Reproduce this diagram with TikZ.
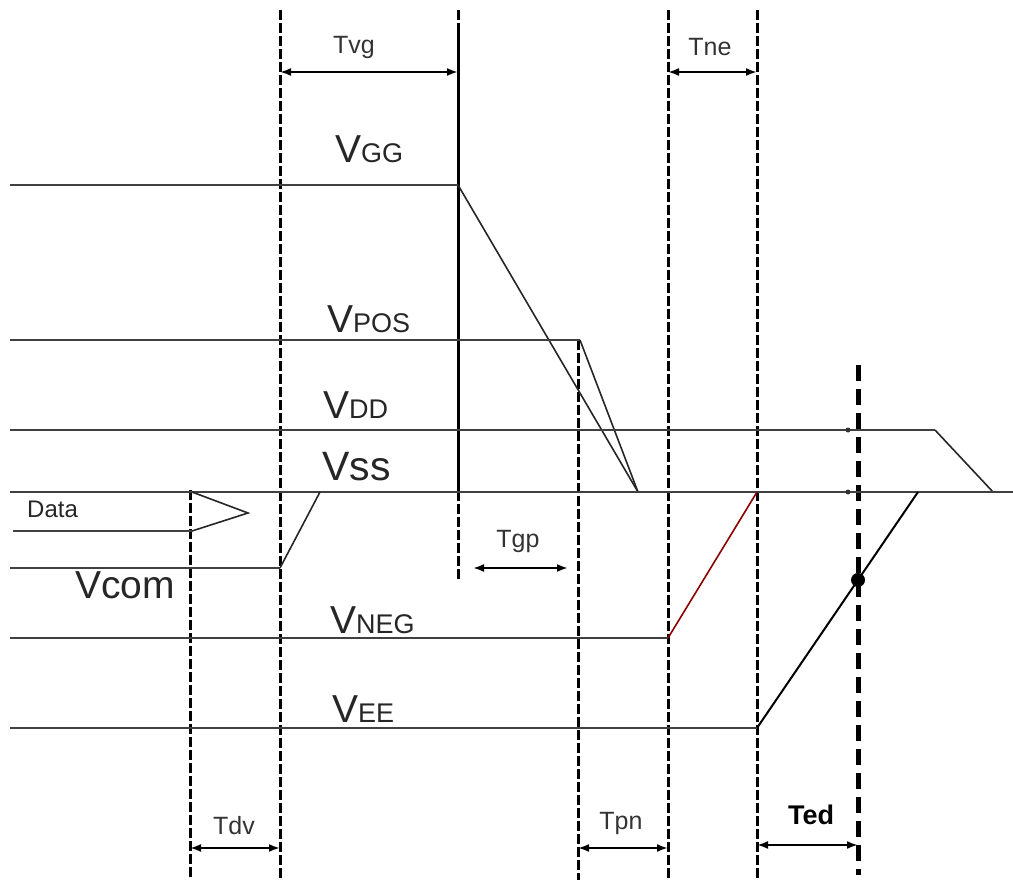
\documentclass[tikz,border=0pt]{standalone}
\usepackage{fontspec}
\setmainfont{Liberation Sans}
\usetikzlibrary{arrows.meta}

\newcommand{\vsub}[1]{{\fontsize{39}{39}\selectfont V\fontsize{27}{27}\selectfont #1}}

\tikzset{
  sigline/.style={line width=2.3pt, draw=black!75},
  slope/.style={line width=1.6pt, draw=black!85},
  guide/.style={line width=3pt, dash pattern=on 10pt off 3pt},
  measure/.style={line width=2pt, {Latex[length=11pt,width=8pt]}-{Latex[length=11pt,width=8pt]}},
  vlabel/.style={anchor=base west, inner sep=0pt, text=black!85},
  tlabel/.style={font=\fontsize{25}{25}\selectfont, inner sep=0pt, text=black!80}
}

\begin{document}
\begin{tikzpicture}[x=1pt, y=-1pt]
  \useasboundingbox (0,0) rectangle (1013,880);

  % time marks
  \foreach \n/\x/\ya/\yb in {dv/190/490/880, vg/280/10/880, gg/458/10/580,
                             gp/578/340/880, pn/668/10/880, ne/757/10/880} {
    \coordinate (\n-top) at (\x,\ya);
    \coordinate (\n-bot) at (\x,\yb);
    \draw[guide] (\n-top) -- (\n-bot);
  }
  \coordinate (gg-a) at (458,30);
  \coordinate (gg-b) at (458,500);
  \draw[line width=3pt] (gg-a) -- (gg-b);
  \coordinate (ed-top) at (858,365);
  \coordinate (ed-bot) at (858,875);
  \draw[line width=5pt, dash pattern=on 16pt off 8pt] (ed-top) -- (ed-bot);

  % supply levels
  \coordinate (vgg0) at (10,185);  \coordinate (vgg1) at (458,185);
  \coordinate (vpos0) at (10,340); \coordinate (vpos1) at (580,340);
  \coordinate (vfall) at (638,492);
  \coordinate (vdd0) at (10,430);  \coordinate (vdd1) at (935,430);
  \coordinate (vdd2) at (993,492);
  \coordinate (vss0) at (10,492);  \coordinate (vss1) at (1013,492);
  \coordinate (vcom0) at (10,568); \coordinate (vcom1) at (280,568);
  \coordinate (vcom2) at (320,492);
  \coordinate (vneg0) at (10,638); \coordinate (vneg1) at (668,638);
  \coordinate (vneg2) at (757,492);
  \coordinate (vee0) at (10,728);  \coordinate (vee1) at (757,728);
  \coordinate (vee2) at (918,492);

  \draw[sigline] (vgg0) -- (vgg1);
  \draw[slope] (vgg1) -- (vfall);
  \draw[sigline] (vpos0) -- (vpos1);
  \draw[slope] (vpos1) -- (vfall);
  \draw[sigline] (vdd0) -- (vdd1);
  \draw[slope] (vdd1) -- (vdd2);
  \draw[sigline] (vss0) -- (vss1);
  \draw[sigline] (vcom0) -- (vcom1);
  \draw[slope] (vcom1) -- (vcom2);
  \draw[sigline] (vneg0) -- (vneg1);
  \draw[line width=1.6pt, draw=red!55!black] (vneg1) -- (vneg2);
  \draw[sigline] (vee0) -- (vee1);
  \draw[line width=2pt] (vee1) -- (vee2);
  \fill[black!80] (848,430) circle (2.5pt) (848,492) circle (2.5pt);
  \coordinate (edcross) at (intersection of vee1--vee2 and ed-top--ed-bot);
  \fill (edcross) circle (7pt);

  % data bus
  \coordinate (data0) at (13,531);  \coordinate (data1) at (192,531);
  \coordinate (datatip) at (248,513); \coordinate (datatop) at (192,492);
  \draw[sigline] (data0) -- (data1);
  \draw[slope] (data1) -- (datatip) -- (datatop);

  % labels
  \node[vlabel] (lgg) at (335,163) {\vsub{GG}};
  \node[vlabel] (lpos) at (327,332) {\vsub{POS}};
  \node[vlabel] (ldd) at (323,418) {\vsub{DD}};
  \node[vlabel, font=\fontsize{41}{41}\selectfont] (lss) at (322,480) {Vss};
  \node[vlabel] (lneg) at (330,633) {\vsub{NEG}};
  \node[vlabel] (lee) at (332,722) {\vsub{EE}};
  \node[vlabel, font=\fontsize{39}{39}\selectfont] (lcom) at (75,598) {Vcom};
  \node[vlabel, font=\fontsize{24}{24}\selectfont] (ldata) at (27,517) {Data};

  % intervals
  \coordinate (tvg-l) at (280,72);  \coordinate (tvg-r) at (458,72);
  \coordinate (tne-l) at (668,72);  \coordinate (tne-r) at (757,72);
  \coordinate (tgp-l) at (473,568); \coordinate (tgp-r) at (568,568);
  \coordinate (tdv-l) at (190,848); \coordinate (tdv-r) at (280,848);
  \coordinate (tpn-l) at (578,848); \coordinate (tpn-r) at (668,848);
  \coordinate (ted-l) at (757,845); \coordinate (ted-r) at (858,845);
  \draw[measure] (tvg-l) -- (tvg-r);
  \draw[measure] (tne-l) -- (tne-r);
  \draw[measure] (tgp-l) -- (tgp-r);
  \draw[measure] (tdv-l) -- (tdv-r);
  \draw[measure] (tpn-l) -- (tpn-r);
  \draw[measure] (ted-l) -- (ted-r);
  \node[tlabel] (ltvg) at (354,47) {Tvg};
  \node[tlabel] (ltne) at (710,47) {Tne};
  \node[tlabel] (ltgp) at (518,541) {Tgp};
  \node[tlabel] (ltdv) at (234,826) {Tdv};
  \node[tlabel] (ltpn) at (621,823) {Tpn};
  \node[tlabel, font=\fontsize{27}{27}\selectfont\bfseries, text=black] (lted) at (811,815) {Ted};
\end{tikzpicture}
\end{document}
